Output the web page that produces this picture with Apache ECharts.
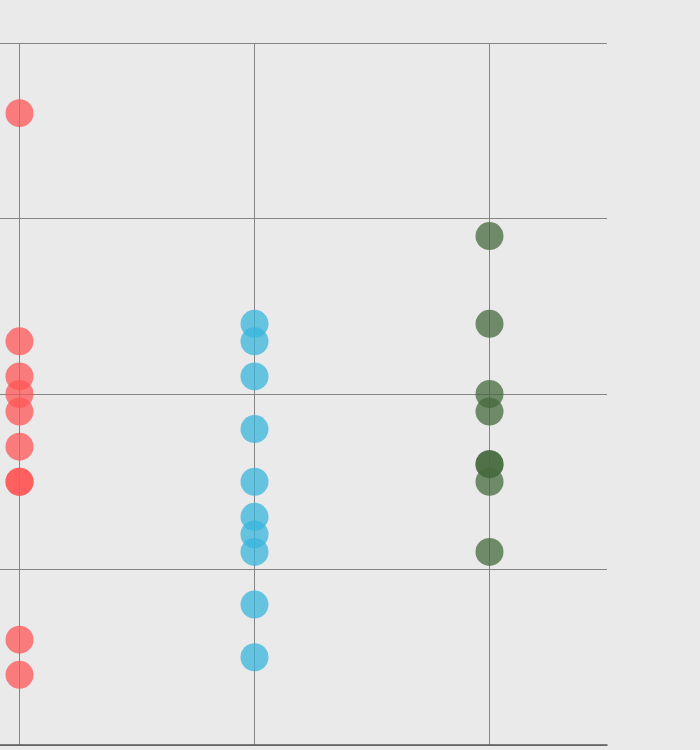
<!DOCTYPE html>
<html>
<head>
<meta charset="utf-8">
<script src="https://cdn.jsdelivr.net/npm/echarts@6/dist/echarts.min.js"></script>
<style>
	html, body {margin: 0; padding: 0; background: #eaeaea;}
	#main {width: 700px; height: 750px;}
</style>
</head>
<body>
<div id="main"></div>
<script>
// three groups, values (10 units per grid line)
const categories = ['A', 'B', 'C'];
const redValues = [36, 23, 21, 20, 19, 17, 15, 15, 6, 4];
const blueValues = [24, 23, 21, 18, 15, 13, 12, 11, 8, 5];
const greenValues = [29, 24, 20, 19, 16, 16, 15, 11];
const yTicks = {min: 0, max: 40, interval: 10};

const toPoints = (cat, values) => values.map(v => [cat, v]);

const makeSeries = (name, cat, values, color) => ({
	name,
	type: 'scatter',
	data: toPoints(cat, values),
	symbolSize: 28,
	itemStyle: {color, opacity: 0.75},
	emphasis: {disabled: true}
});

const chart = echarts.init(document.querySelector('#main'), null, {renderer: 'canvas'});
chart.setOption({
	backgroundColor: '#eaeaea',
	animation: false,
	// plot area starts left of the window, so the first group sits at the edge
	grid: {left: -98, right: 93, top: 43, bottom: 5, containLabel: false, outerBoundsMode: 'none'},
	xAxis: {
		type: 'category',
		data: categories,
		boundaryGap: true,
		axisLabel: {show: false},
		axisTick: {show: false},
		axisLine: {show: true, lineStyle: {color: '#5a5a5a', width: 1.5}},
		splitLine: {show: true, alignWithLabel: true, lineStyle: {color: '#858585', width: 1}}
	},
	yAxis: {
		type: 'value',
		min: yTicks.min,
		max: yTicks.max,
		interval: yTicks.interval,
		axisLabel: {show: false},
		axisTick: {show: false},
		axisLine: {show: false},
		splitLine: {show: true, lineStyle: {color: '#858585', width: 1}}
	},
	series: [
		makeSeries('red', 'A', redValues, '#ff5656'),
		makeSeries('blue', 'B', blueValues, '#38b6dc'),
		makeSeries('green', 'C', greenValues, '#456a3d')
	]
});
</script>
</body>
</html>
